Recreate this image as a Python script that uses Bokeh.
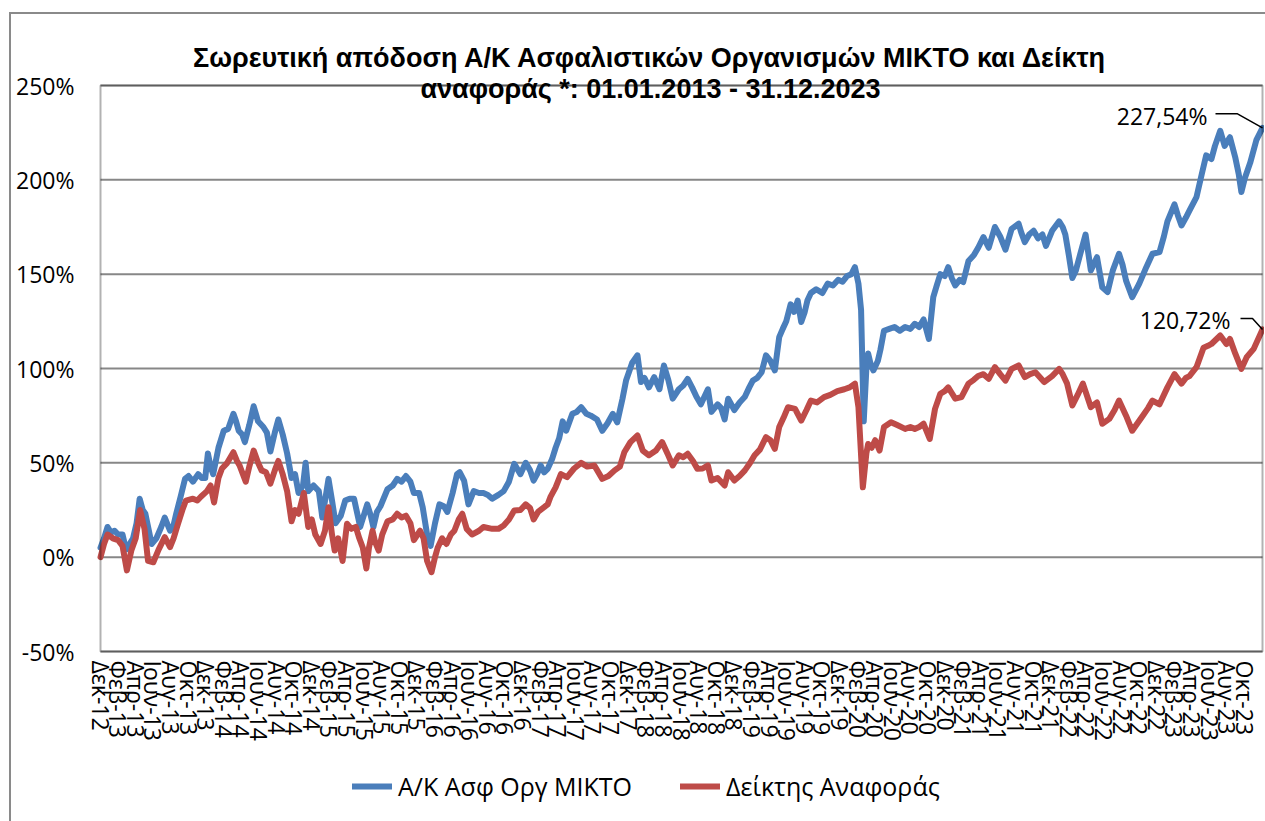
from bokeh.plotting import figure
from bokeh.models import (Range1d, FixedTicker, Legend, LegendItem, Label, BoxAnnotation,
                          InlineStyleSheet)
from bokeh.embed import file_html
from bokeh.resources import INLINE

TITLE_1 = "Σωρευτική απόδοση Α/Κ Ασφαλιστικών Οργανισμών ΜΙΚΤΟ και Δείκτη"
TITLE_2 = "αναφοράς *: 01.01.2013 - 31.12.2023"
SERIES_NAMES = ["Α/Κ Ασφ Οργ ΜΙΚΤΟ", "Δείκτης Αναφοράς"]

# time in months elapsed since 31.12.2012, cumulative return in %
fund_months = [
    0, 0.4, 0.8, 1.2, 1.6, 2.0, 2.5, 2.9, 3.3, 3.7, 4.1, 4.45, 4.8, 5.1, 5.5, 5.8,
    6.35, 6.9, 7.3, 7.9, 8.3, 8.6, 9.1, 9.6, 10.0, 10.5, 11.1, 11.5, 11.9, 12.2, 12.5,
    12.8, 13.4, 14.0, 14.5, 15.1, 15.4, 15.7, 16.1, 16.4, 16.9, 17.4, 17.9, 18.5, 18.9,
    19.3, 19.8, 20.2, 20.7, 21.2, 21.7, 22.1, 22.5, 23.0, 23.3, 23.6, 24.2, 24.8, 25.2,
    25.9, 26.3, 26.7, 27.3, 27.8, 28.3, 28.8, 29.5, 30.3, 30.7, 31.0, 31.4, 31.8, 32.6,
    33.2, 33.7, 34.2, 34.7, 35.2, 35.6, 36.2, 36.6, 37.1, 37.5, 38.0, 38.5, 39.0, 39.4,
    40.0, 40.5, 40.8, 41.3, 41.8, 42.4, 43.0, 43.5, 44.0, 44.5, 45.2, 45.8, 46.4, 47.0,
    47.7, 48.3, 48.8, 49.2, 49.6, 50.0, 50.4, 50.8, 51.3, 51.7, 52.1, 52.5, 52.9, 53.6,
    54.1, 54.6, 55.2, 55.7, 56.4, 57.0, 57.6, 58.2, 58.7, 59.3, 59.7, 60.4, 61.0, 61.4,
    61.8, 62.3, 62.9, 63.5, 64.0, 64.5, 65.0, 65.7, 66.2, 66.7, 67.2, 67.7, 68.2, 69.0,
    69.4, 70.1, 70.5, 70.9, 71.3, 72.0, 72.6, 73.2, 73.7, 74.1, 74.6, 75.1, 75.6, 76.1,
    76.6, 77.1, 77.5, 77.9, 78.4, 78.8, 79.2, 79.6, 80.0, 80.3, 80.7, 81.3, 82.0, 82.6,
    83.2, 83.8, 84.3, 84.8, 85.3, 85.7, 86.1, 86.4, 86.7, 87.0, 87.2, 87.5, 87.8, 88.3,
    88.6, 89.0, 89.6, 90.2, 90.8, 91.4, 92.0, 92.5, 93.0, 93.5, 94.1, 94.6, 95.0, 95.4,
    95.9, 96.3, 96.7, 97.1, 97.6, 98.0, 98.6, 99.2, 99.7, 100.3, 100.9, 101.6, 102.2,
    102.8, 103.5, 104.3, 104.6, 105.0, 105.5, 106.0, 106.5, 107.0, 107.4, 108.1, 108.9,
    109.3, 109.6, 110.0, 110.4, 110.8, 111.2, 111.9, 112.5, 113.2, 113.8, 114.4, 115.0,
    115.7, 116.1, 116.5, 117.2, 118.0, 118.8, 119.5, 120.3, 120.8, 121.2, 122.0, 122.4,
    122.8, 123.3, 123.7, 124.5, 125.1, 125.6, 126.2, 126.6, 127.2, 127.7, 128.3, 128.9,
    129.3, 129.6, 130.0, 130.6, 131.3, 132.0,
]
fund_return = [
    5, 10, 16, 13, 14, 12, 12, 4, 7, 10, 18, 31, 25, 23, 14, 7,
    10, 16, 21, 14, 17, 23, 32, 41.5, 43, 40, 44, 42, 42, 55, 48,
    44, 58, 67, 68, 76, 72, 67, 65, 61, 70, 80, 72, 69, 66,
    56, 66, 73, 65, 55, 42, 44, 34, 38, 50, 35, 38, 35, 21,
    41.5, 30, 18, 22, 30, 31, 31, 16, 28, 22, 16, 24, 27, 36,
    38, 41.5, 40, 43, 40, 34, 34, 26.5, 12, 6, 18, 28, 27, 24,
    34, 44, 45, 40.6, 28, 35, 34, 34, 33, 31, 33, 35, 40, 49.5,
    44, 50, 46, 40.6, 44, 48.6, 45, 46.8, 52, 58, 63, 72, 67, 76,
    77, 79.5, 76, 75, 73, 67, 71, 76, 71.5, 84, 93.6, 103, 107, 92.8,
    95, 90, 95.4, 89, 101.6, 94, 84, 89, 91, 94.5, 90, 85, 81, 89,
    77, 81, 79, 73, 84, 78, 82, 85, 90, 93.6, 95, 98, 107, 104,
    99, 116.6, 121, 125, 134, 130, 136, 124.6, 130, 136, 140, 142, 140, 145,
    144, 147, 146, 149, 150, 153.7, 145, 131, 72, 100, 108, 102, 99, 104,
    110, 120, 121, 122, 120, 122, 121, 123.7, 122, 126, 115.7, 137.8, 144, 150,
    149, 153.7, 148, 144, 147, 145.8, 157, 160, 164, 169.6, 164, 175, 170,
    163, 174, 176.7, 172, 167, 171, 173, 169, 171, 165, 173, 178,
    175, 171, 160, 148, 152, 159, 171, 152, 159, 143, 140.5, 152,
    160.8, 155, 146.6, 137.8, 145, 153.7, 160.8, 161.7, 170, 178, 187, 181,
    175.8, 180, 183.7, 190.8, 203, 213, 211, 218, 226, 218, 222.6, 212,
    203, 193.5, 201, 209, 221, 227.54,
]

index_months = [
    0, 0.4, 0.8, 1.4, 2.0, 2.5, 3.0, 3.5, 4.0, 4.5, 5.0, 5.4, 6.0, 6.6, 7.3, 7.9,
    8.3, 8.8, 9.3, 9.7, 10.5, 11.0, 11.4, 12.1, 12.5, 12.9, 13.4, 13.8, 14.4, 15.1,
    15.5, 15.8, 16.5, 16.9, 17.4, 17.9, 18.3, 18.8, 19.3, 19.8, 20.2, 20.7, 21.2, 21.7,
    22.1, 22.5, 23.1, 23.6, 24.0, 24.4, 25.0, 25.5, 25.9, 26.3, 26.6, 27.0, 27.5, 28.0,
    28.5, 29.0, 29.4, 29.8, 30.2, 30.5, 30.9, 31.2, 31.6, 32.0, 32.6, 33.2, 33.7, 34.2,
    34.7, 35.2, 35.6, 36.3, 36.7, 37.1, 37.6, 38.0, 38.3, 38.8, 39.3, 39.8, 40.2, 40.7,
    41.1, 41.6, 42.2, 43.0, 43.5, 44.5, 45.2, 45.8, 46.4, 47.0, 47.7, 48.3, 48.8, 49.2,
    49.7, 50.4, 50.8, 51.1, 51.7, 52.3, 53.0, 53.8, 54.6, 55.3, 56.1, 57.0, 57.7, 58.4,
    59.0, 59.5, 60.2, 61.0, 61.6, 62.3, 63.1, 63.8, 64.4, 65.0, 65.7, 66.2, 66.7, 67.3,
    67.8, 68.4, 69.0, 69.4, 70.1, 70.9, 71.3, 72.0, 72.6, 73.2, 73.8, 74.3, 74.9, 75.6,
    76.1, 76.6, 77.1, 77.6, 78.1, 78.9, 79.6, 80.2, 80.7, 81.4, 82.2, 82.9, 83.7, 84.5,
    85.1, 85.7, 86.1, 86.6, 87.0, 87.2, 87.6, 88.0, 88.5, 89.0, 89.8, 90.5, 91.4, 92.0,
    92.5, 93.0, 93.5, 94.2, 94.8, 95.4, 95.9, 96.3, 96.7, 97.1, 97.8, 98.6, 99.2, 99.7,
    100.3, 100.9, 101.6, 102.2, 102.8, 103.5, 104.3, 105.0, 105.6, 106.2, 107.2, 108.1,
    108.9, 109.3, 109.8, 110.4, 111.0, 111.6, 112.5, 113.2, 113.8, 114.6, 115.2, 115.7,
    116.5, 117.2, 117.8, 118.4, 119.0, 119.5, 120.3, 121.2, 122.0, 122.8, 123.3, 123.7,
    124.5, 125.3, 125.8, 126.2, 127.2, 127.9, 128.3, 128.9, 129.6, 130.2, 131.0, 132.0,
]
index_return = [
    0, 7, 12, 10, 9, 6, -7, 3.5, 10, 25, 15, -2, -2.7, 4, 10.6, 5.3,
    10, 17.7, 25, 30, 31, 30, 32, 35, 38, 29, 42, 47, 50, 55.6,
    51, 48.6, 40, 48, 56.5, 50, 46, 45, 39, 46, 51, 44, 35, 19,
    25, 23, 34, 16, 20, 12, 7, 14, 26.5, 12, 3.5, 10, -2, 17.7,
    15, 16, 10, 5, -6, 5, 14, 8, 3.5, 12, 19, 20, 23, 21,
    22, 18, 9, 14, 10, -2, -8, 0, 5, 10, 7, 12, 14, 20,
    23, 15, 12, 14, 16, 15, 15, 16.8, 20, 24.7, 25, 28, 26, 20,
    24, 26.5, 28, 31.8, 37, 44, 42.4, 47, 50, 48, 48.6, 41.5, 43, 46,
    48, 55.6, 61, 64.5, 56.5, 54, 56.5, 61, 55, 48.6, 54, 53, 54.8, 51,
    46.8, 47, 48.6, 40.6, 42, 38, 45, 40.6, 43, 46, 50, 54, 57, 63.6,
    62, 57.4, 69, 74, 79.5, 78.6, 72.4, 78, 83, 82, 84.8, 86, 88, 89,
    90, 92, 79.5, 37, 55, 60, 58, 62, 56.5, 69, 71.5, 70, 68, 69,
    68, 69, 70.7, 62.7, 78.6, 86.6, 88, 90, 87, 84, 84.8, 92, 94, 96,
    97, 94.5, 100.7, 97, 93.6, 99.8, 101.6, 95.4, 97, 98, 92.8, 96,
    99.8, 97, 92, 80.4, 86, 92, 79.5, 82, 70.7, 73.3, 78, 83,
    75, 67, 71, 75, 79, 83, 81, 90, 97, 92, 95, 96,
    100.7, 111, 112, 113, 117.5, 113, 115.7, 108, 99.8, 106, 110.4, 120.72,
]

MONTH_ABBR = ["Ιαν", "Φεβ", "Μαρ", "Απρ", "Μαϊ", "Ιουν", "Ιουλ", "Αυγ", "Σεπ", "Οκτ", "Νοε", "Δεκ"]
tick_months = list(range(0, 131, 2))
tick_labels = {m: f"{MONTH_ABBR[(11 + m) % 12]}-{12 + (11 + m) // 12}" for m in tick_months}
y_ticks = [-50, 0, 50, 100, 150, 200, 250]
y_labels = {v: f"{v}%" for v in y_ticks}

BLUE = "#4A7EBB"
RED = "#BE4B48"
FONT = "Open Sans"

# plot-area geometry (pixels); the frame covers the whole canvas height (and a little room
# left of the plot box) so that title, rotated date labels and legend all sit inside it
AREA_W, AREA_H = 1162, 566      # box from 0..132 months, -50..250 %
PAD_L, PAD_R = 20, 2            # room left of / right of the box
HEAD = 85                       # from canvas top to the 250% line
FRAME_H = 818
ppm = AREA_W / 132.0
ppp = AREA_H / 300.0
y_top = 250 + HEAD / ppp
y_bottom = y_top - FRAME_H / ppp

p = figure(frame_width=AREA_W + PAD_L + PAD_R, frame_height=FRAME_H,
           output_backend="svg", toolbar_location=None,
           x_range=Range1d(0 - PAD_L / ppm, 132 + PAD_R / ppm),
           y_range=Range1d(y_bottom, y_top),
           min_border_left=100 - PAD_L, min_border_right=0, min_border_top=0, min_border_bottom=0,
           background_fill_color="white", border_fill_color="white")
p.stylesheets = [InlineStyleSheet(css=(
    ":host { position: relative; }"
    ":host::after { content: ''; position: absolute; left: 9px; top: 12px; right: -20px;"
    " bottom: -20px; border-left: 2px solid #8a8a8a; border-top: 2px solid #8a8a8a;"
    " pointer-events: none; }"))]

p.outline_line_color = None
p.xgrid.visible = False
p.ygrid.visible = False
# horizontal gridlines limited to the plot box
p.segment(x0=[0] * len(y_ticks), x1=[132] * len(y_ticks), y0=y_ticks, y1=y_ticks,
          line_color="#878787", line_width=2)

p.yaxis.ticker = FixedTicker(ticks=y_ticks)
p.yaxis.major_label_overrides = y_labels
p.xaxis.ticker = FixedTicker(ticks=tick_months)
p.xaxis.major_label_overrides = tick_labels
p.xaxis.major_label_orientation = "vertical"
p.xaxis.fixed_location = -50
for ax in (p.xaxis, p.yaxis):
    ax.axis_line_color = None
    ax.major_tick_line_color = None
    ax.minor_tick_line_color = None
    ax.major_tick_out = 0
    ax.major_tick_in = 0
    ax.major_label_text_font = FONT
    ax.major_label_text_font_size = "23px"
    ax.major_label_text_color = "black"
p.yaxis.major_label_standoff = 6
p.xaxis.major_label_standoff = 9

p.add_layout(BoxAnnotation(left=0, right=132, bottom=-50, top=250,
                           fill_color=None, line_color="black", line_width=2))

r_fund = p.line(fund_months, fund_return, line_color=BLUE, line_width=6,
                line_join="round", line_cap="round")
r_index = p.line(index_months, index_return, line_color=RED, line_width=6,
                 line_join="round", line_cap="round")

legend = Legend(items=[LegendItem(label=SERIES_NAMES[0], renderers=[r_fund]),
                       LegendItem(label=SERIES_NAMES[1], renderers=[r_index])],
                orientation="horizontal", location=(352 - (100 - PAD_L), 15),
                glyph_width=40, glyph_height=24, label_standoff=6, spacing=48,
                label_text_font=FONT, label_text_font_size="25px", label_text_color="black",
                border_line_color=None, background_fill_alpha=0, margin=0, padding=0)
p.add_layout(legend, "center")


def end_label(xs, ys, dx_text, dy_text, leader):
    x0, y0 = xs[-1], ys[-1]
    txt = f"{y0:.2f}%".replace(".", ",")
    p.add_layout(Label(x=x0, y=y0, x_offset=dx_text, y_offset=dy_text, text=txt,
                       text_align="right", text_baseline="middle",
                       text_font=FONT, text_font_size="23px", text_color="black"))
    lx = [x0] + [x0 + dx / ppm for dx, dy in leader]
    ly = [y0] + [y0 + dy / ppp for dx, dy in leader]
    p.line(lx, ly, line_color="black", line_width=1.5)


end_label(fund_months, fund_return, -55, 12, [(-25, 14), (-47, 14)])
end_label(index_months, index_return, -32, 9, [(-10, 11), (-22, 11)])

for txt, dy in ((TITLE_1, 28), (TITLE_2, -3)):
    p.add_layout(Label(x=66, y=250, x_offset=-31, y_offset=dy, text=txt,
                       text_align="center", text_baseline="middle",
                       text_font="Liberation Sans", text_font_style="bold",
                       text_font_size="27px", text_color="black"))

open("out.html", "w").write(file_html(p, INLINE))
